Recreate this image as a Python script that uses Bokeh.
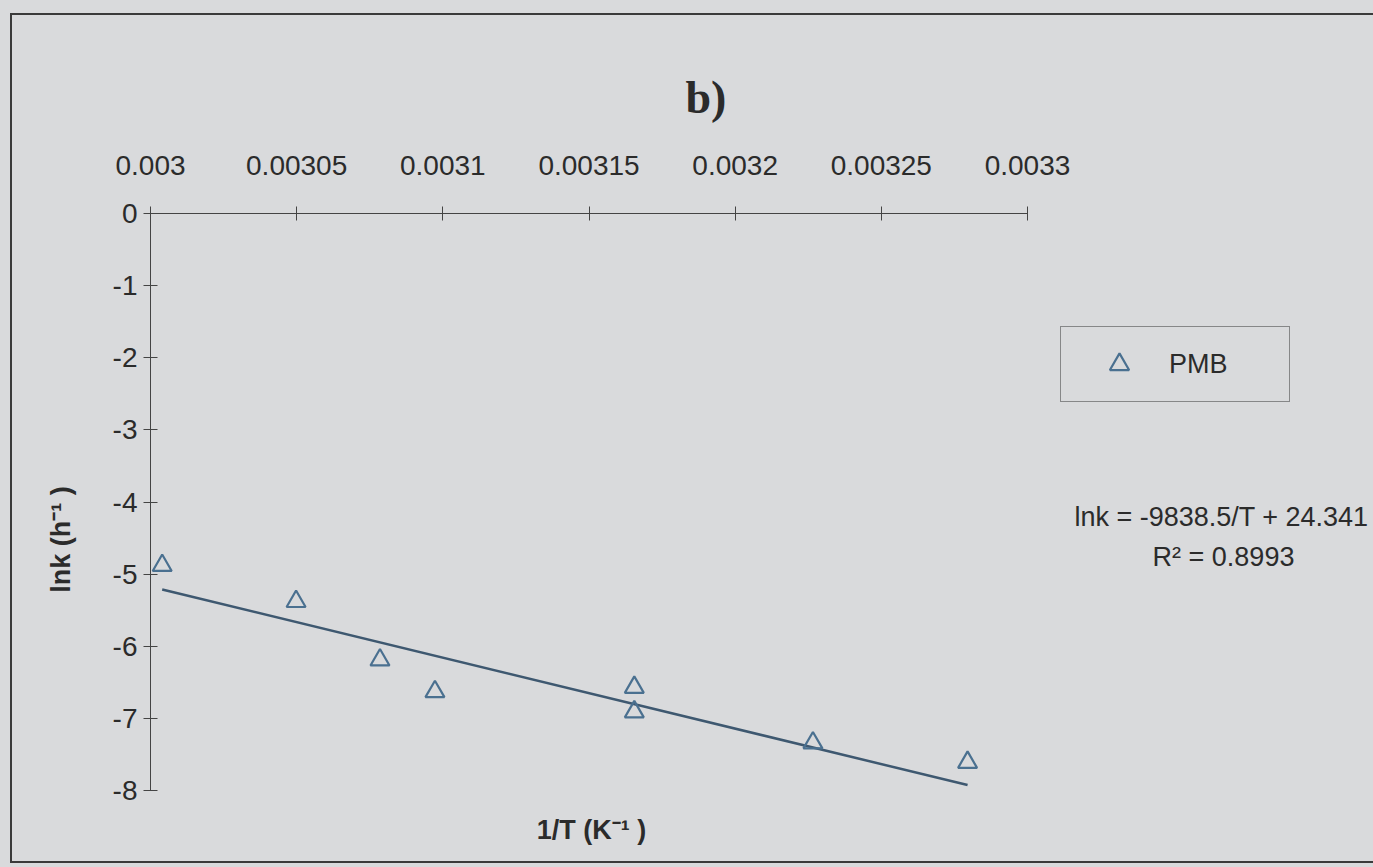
from bokeh.plotting import figure
from bokeh.models import (Range1d, Legend, LegendItem, Label, FixedTicker, Column)
from bokeh.embed import file_html
from bokeh.resources import INLINE

# ---- data ----
inv_T = [0.003004, 0.0030498, 0.0030785, 0.0030973, 0.0031655, 0.0031655, 0.0032266, 0.0032795]
ln_k = [-4.88, -5.38, -6.19, -6.63, -6.57, -6.91, -7.34, -7.61]
series_name = "PMB"
x_ticks = [0.003, 0.00305, 0.0031, 0.00315, 0.0032, 0.00325, 0.0033]
x_tick_labels = ["0.003", "0.00305", "0.0031", "0.00315", "0.0032", "0.00325", "0.0033"]
y_ticks = [0, -1, -2, -3, -4, -5, -6, -7, -8]
y_tick_labels = ["0", "-1", "-2", "-3", "-4", "-5", "-6", "-7", "-8"]
fit_slope = -9838.5
fit_intercept = 24.341
r_squared = 0.8993

fit_x = [min(inv_T), max(inv_T)]
fit_y = [fit_slope * v + fit_intercept for v in fit_x]

BG = "#d9dadc"
INK = "#2b2b2b"
FONT = "Liberation Sans"

W, H = 1372, 850
FL, FT = 138, 198                  # frame left / top borders (canvas px)
Y0_PX = 775                        # canvas y of ln k = -8
x0, x1 = 0.003, 0.0033
px_per_x = (1015 - FL) / (x1 - x0)
px_per_y = (Y0_PX - FT) / 8.0
x_end = x0 + (W - FL) / px_per_x
y_start = -(H - FT) / px_per_y

p = figure(width=W, height=H, output_backend="svg", toolbar_location=None,
           x_axis_location="above",
           x_range=Range1d(x0, x_end), y_range=Range1d(y_start, 0),
           min_border_left=FL, min_border_top=FT, min_border_bottom=0,
           min_border_right=0, background_fill_color=BG, border_fill_color=BG)
p.outline_line_color = None
p.grid.visible = False

# title
p.title.text = "b)"
p.title.text_font = "Liberation Serif"
p.title.text_font_style = "bold"
p.title.text_font_size = "46px"
p.title.text_color = INK
p.title.align = "left"
p.title.offset = 535
p.title.standoff = 60

# top x axis
xa = p.xaxis[0]
xa.ticker = FixedTicker(ticks=x_ticks)
xa.major_label_overrides = dict(zip(x_ticks, x_tick_labels))
xa.bounds = (x0, x1)
xa.major_tick_in = 7
xa.major_tick_out = 7
xa.minor_tick_line_color = None
xa.major_label_standoff = 32
xa.major_label_text_font = FONT
xa.major_label_text_font_size = "28px"
xa.major_label_text_color = INK
xa.axis_line_color = "#444444"
xa.major_tick_line_color = "#444444"

# left y axis
ya = p.yaxis[0]
ya.ticker = FixedTicker(ticks=y_ticks)
ya.major_label_overrides = dict(zip(y_ticks, y_tick_labels))
ya.bounds = (-8, 0)
ya.major_tick_in = 7
ya.major_tick_out = 7
ya.minor_tick_line_color = None
ya.major_label_standoff = 6
ya.major_label_text_font = FONT
ya.major_label_text_font_size = "28px"
ya.major_label_text_color = INK
ya.axis_line_color = "#444444"
ya.major_tick_line_color = "#444444"
ya.axis_label = "lnk (h\u207b\u00b9 )"
ya.axis_label_text_font = FONT
ya.axis_label_text_font_style = "bold"
ya.axis_label_text_font_size = "27px"
ya.axis_label_text_color = INK
ya.axis_label_standoff = 34

# trend line and points
p.line(fit_x, fit_y, line_color="#3e5870", line_width=2.5)
pts = p.scatter(inv_T, ln_k, marker="triangle", size=19, fill_color=None,
                line_color="#4a7090", line_width=2.2)

legend = Legend(items=[LegendItem(label=series_name, renderers=[pts])],
                location=(910, H - 387), margin=0, padding=13,
                glyph_width=90, glyph_height=48, label_height=48,
                label_width=107, label_standoff=5,
                label_text_font=FONT, label_text_font_size="27px",
                label_text_color=INK,
                border_line_color="#333333", border_line_width=1.5,
                background_fill_color=BG, background_fill_alpha=1.0)
p.add_layout(legend)

def xdata(canvas_x):
    return x0 + (canvas_x - FL) / px_per_x

def ydata(canvas_y):
    return -(canvas_y - FT) / px_per_y

x_title = Label(x=xdata(579), y=ydata(814), text="1/T (K\u207b\u00b9 )",
                text_align="center", text_baseline="middle",
                text_font=FONT, text_font_style="bold", text_font_size="27px",
                text_color=INK)
eq1 = Label(x=xdata(1209), y=ydata(501),
            text=f"lnk = {fit_slope}/T + {fit_intercept}",
            text_align="center", text_baseline="middle",
            text_font=FONT, text_font_size="27px", text_color=INK)
eq2 = Label(x=xdata(1211), y=ydata(541),
            text=f"R\u00b2 = {r_squared}",
            text_align="center", text_baseline="middle",
            text_font=FONT, text_font_size="27px", text_color=INK)
p.add_layout(x_title)
p.add_layout(eq1)
p.add_layout(eq2)

p.margin = (13, 0, 0, 10)
p.styles = {"border-left": "2px solid #3a3a3a", "border-top": "2px solid #3a3a3a",
            "border-bottom": "2px solid #3a3a3a", "border-right": "none"}

layout = Column(children=[p], width=1373, height=867,
                styles={"background-color": BG, "overflow": "hidden"})

open("out.html", "w").write(file_html(layout, INLINE))
